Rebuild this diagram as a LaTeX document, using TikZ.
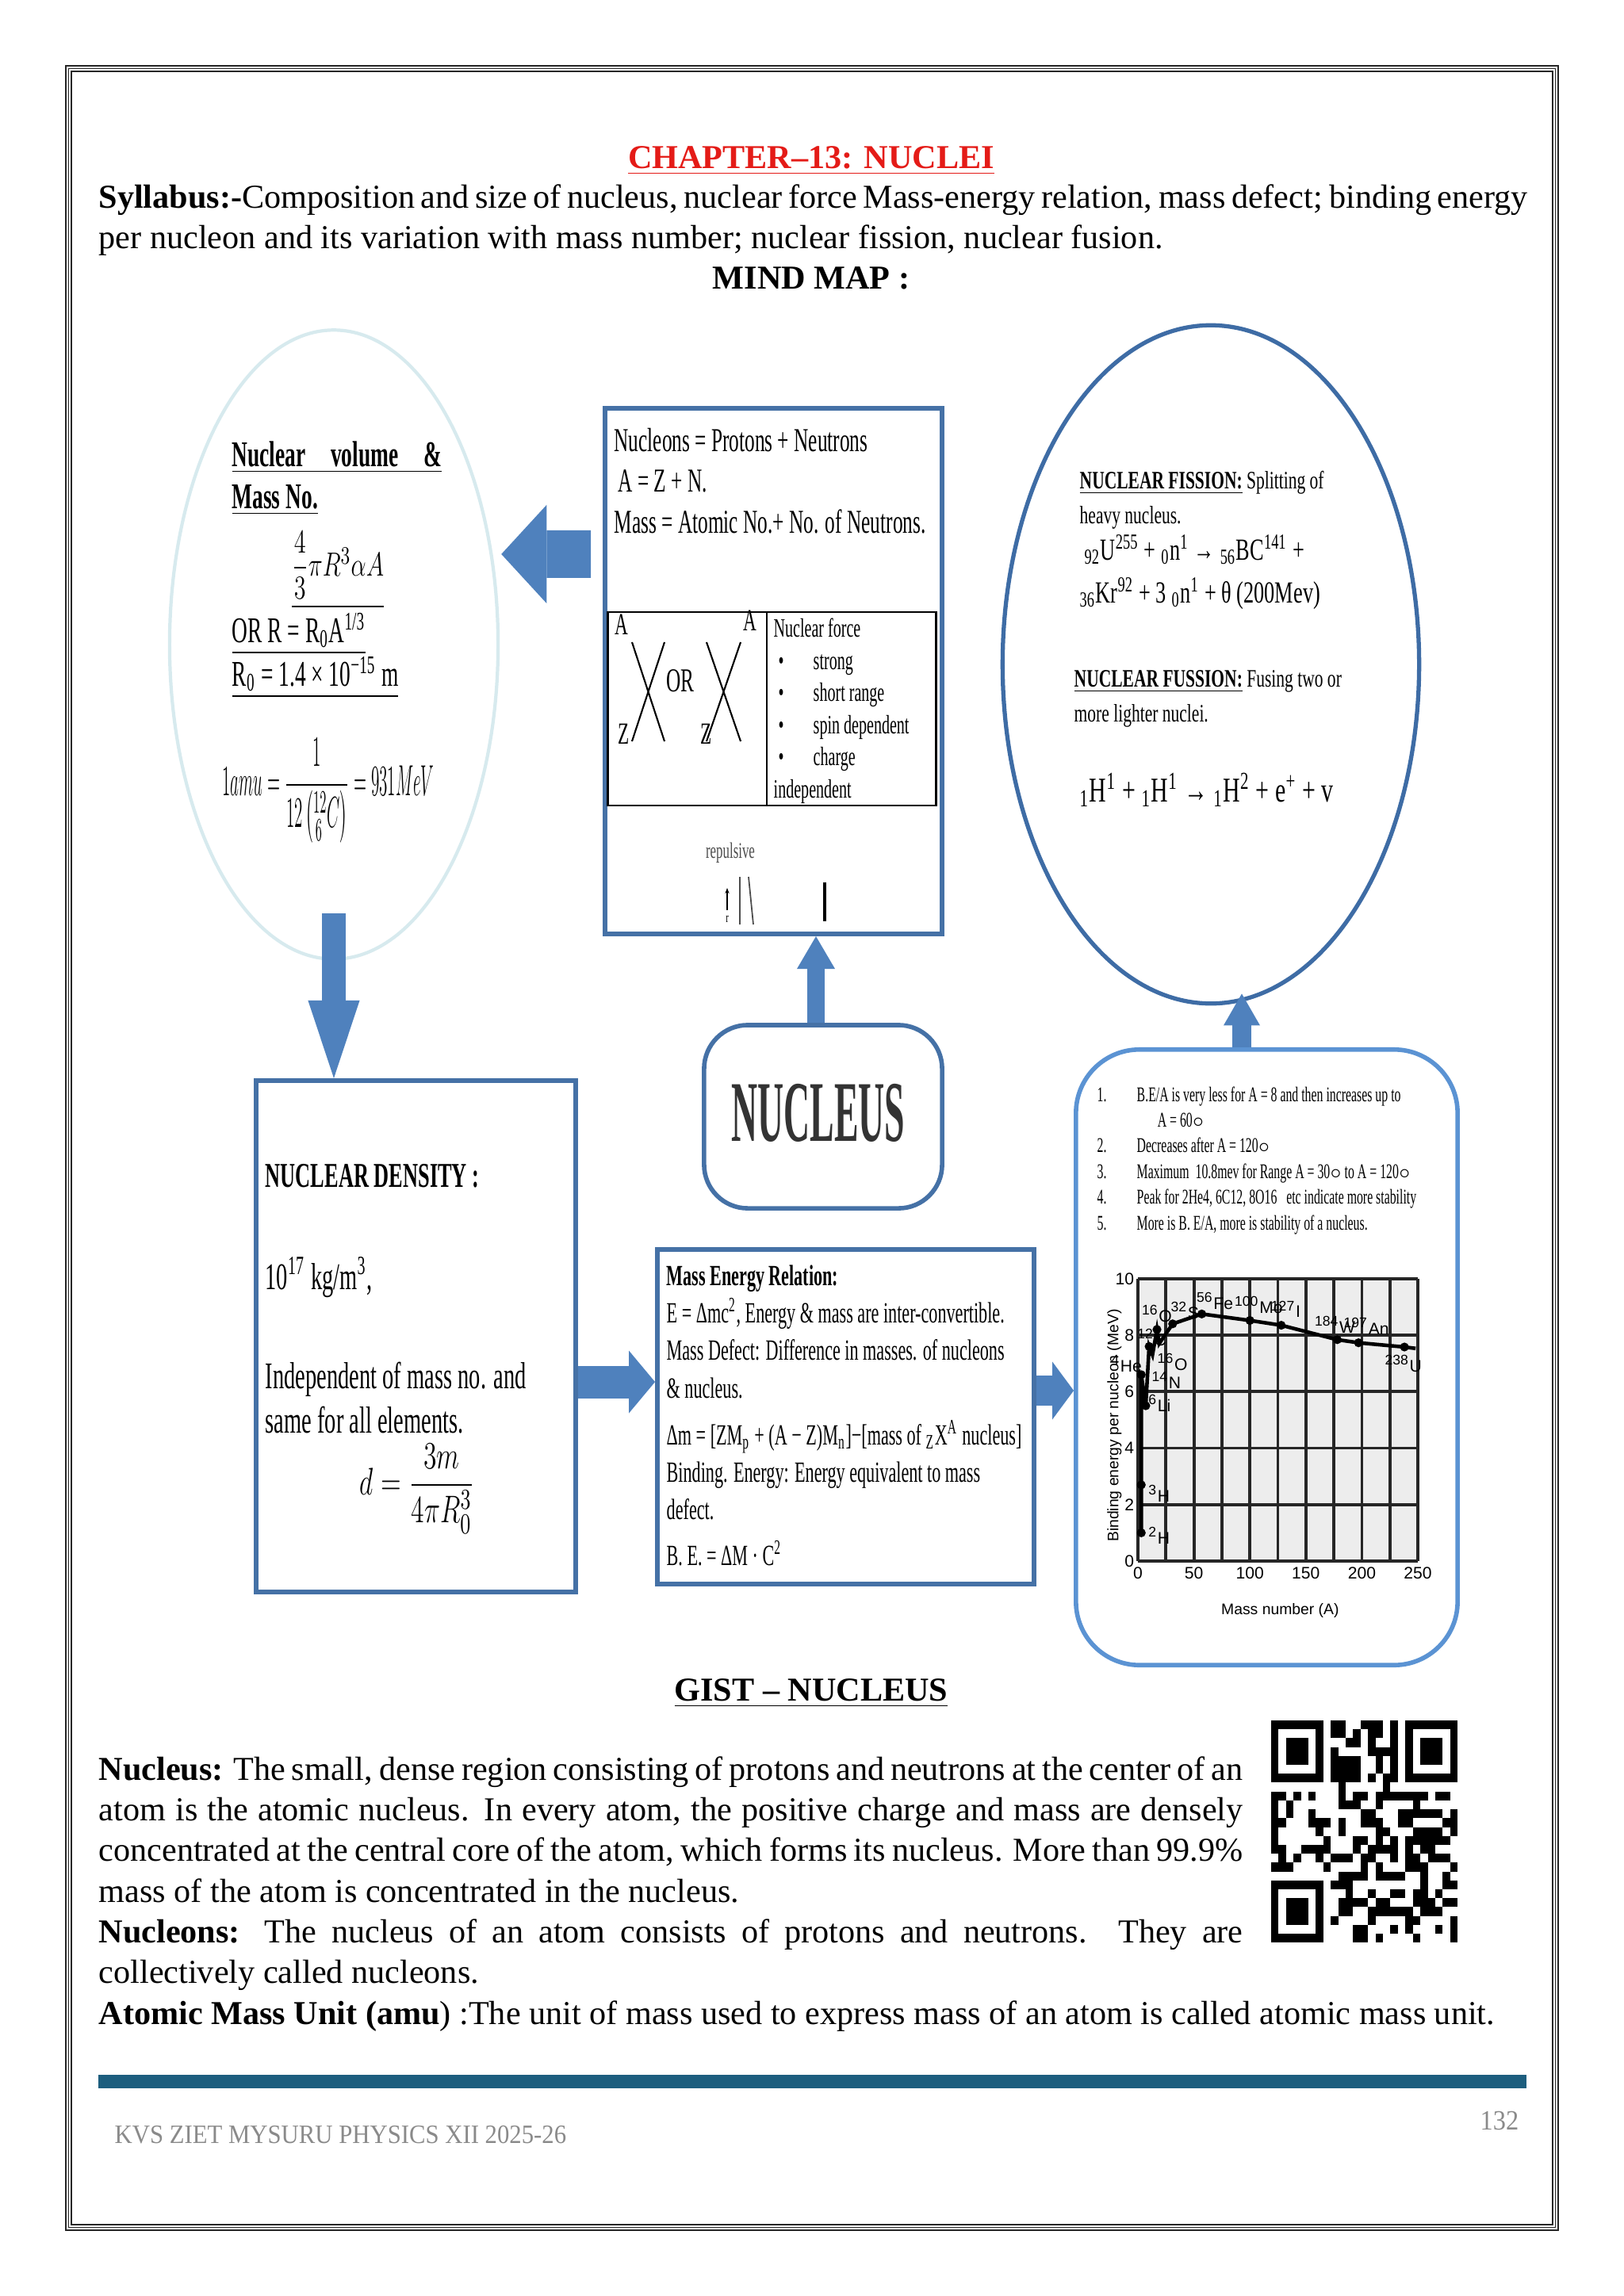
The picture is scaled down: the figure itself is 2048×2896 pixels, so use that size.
\documentclass[tikz,border=0pt]{standalone}
\usepackage{amsmath}
\usepackage{fontspec}
\usepackage{graphicx}
\usepackage{tikz}
\usetikzlibrary{arrows.meta,positioning,shapes.geometric,calc}
\setmainfont{Liberation Serif}
\newfontfamily\condfont[FakeStretch=0.6]{Liberation Serif}
\newfontfamily\circfont[FakeStretch=0.68]{Liberation Serif}
\newfontfamily\nucfont[FakeStretch=0.42]{Liberation Serif}
\newfontfamily\footfont[FakeStretch=0.92]{Liberation Serif}
\newfontfamily\graphfont{Liberation Sans}
\definecolor{TitleRed}{HTML}{E41B17}
\definecolor{BoxBlue}{HTML}{4571A6}
\definecolor{RingBlue}{HTML}{3E6CA5}
\definecolor{SoftBlue}{HTML}{5B93D3}
\definecolor{PaleRing}{HTML}{D7EAEE}
\definecolor{ArrowFill}{HTML}{4F81BD}
\definecolor{FootBar}{HTML}{1D5E7E}
\definecolor{FootText}{HTML}{8A8A8A}

\begin{document}
\begin{tikzpicture}[x=0.01cm,y=-0.01cm,
  box/.style={draw=BoxBlue,line width=1.6pt,inner sep=0pt},
  oval/.style={ellipse,inner sep=0pt},
  txt/.style={anchor=base west,inner sep=0pt,align=left},
  fatarrow/.style n args={3}{draw=ArrowFill,line width=#1,
    -{Triangle[length=#2,width=#3,line width=0pt]}},
  gridline/.style={line width=1.1pt,black!85},
  tag/.style={inner sep=0pt,font=\graphfont\fontsize{6}{7}\selectfont}
]
  \useasboundingbox (0,0) rectangle (2048,2896);
  % page frame
  \draw[line width=0.6pt,black!85] (83,83) rectangle (1965,2813);
  \draw[line width=0.3pt,black!85] (86.5,86.5) rectangle (1961.5,2809.5);
  \draw[line width=0.6pt,black!85] (90,90) rectangle (1958,2806);

  % heading
  \node[anchor=base,inner sep=0pt,text=TitleRed,font=\bfseries\fontsize{12}{14}\selectfont]
    (title) at (1023,212) {\underline{CHAPTER–13: NUCLEI}};
  \node[txt,text width=18.01cm,align=justify,font=\fontsize{12}{14.7}\selectfont] (syl) at (124,262)
    {\textbf{Syllabus:-}Composition and size of nucleus, nuclear force Mass-energy relation, mass defect; binding energy\linebreak
     per nucleon and its variation with mass number; nuclear fission, nuclear fusion.};
  \node[anchor=base,inner sep=0pt,font=\bfseries\fontsize{12}{14}\selectfont] (mindmap) at (1023,364) {MIND MAP :};

  % mind map shapes
  \node[oval,draw=PaleRing,line width=1.2pt,minimum width=4.14cm,minimum height=7.93cm] (vol) at (421,813) {};
  \node[oval,draw=RingBlue,line width=1.5pt,minimum width=5.25cm,minimum height=8.55cm] (fis) at (1527,838) {};
  \node[box,minimum width=4.25cm,minimum height=6.63cm] (basic) at (975.5,846.5) {};
  \node[draw,line width=0.8pt,inner sep=0pt,minimum width=4.13cm,minimum height=2.44cm] (force) at (973.5,894) {};
  \node[box,rounded corners=0.55cm,minimum width=3.0cm,minimum height=2.31cm] (nuc) at (1038,1408.5) {};
  \node[box,minimum width=4.03cm,minimum height=6.45cm] (den) at (524.5,1685.5) {};
  \node[box,minimum width=4.75cm,minimum height=4.22cm] (me) at (1066.5,1787) {};
  \node[draw=SoftBlue,line width=1.6pt,inner sep=0pt,rounded corners=0.8cm,
        minimum width=4.81cm,minimum height=7.76cm] (be) at (1597.5,1712) {};

  % connectors
  \coordinate (nuctop) at ([xshift=-0.09cm]nuc.north);
  \coordinate (betop) at ([xshift=-0.315cm]be.north);
  \draw[fatarrow={0.6cm}{0.57cm}{1.24cm}] ([xshift=-0.15cm,yshift=1.475cm]basic.west) -- ([xshift=0.02cm,yshift=1.14cm]vol.east);
  \draw[fatarrow={0.29cm}{0.98cm}{0.65cm}] ([yshift=0.6cm]vol.south) -- (vol.south |- den.north);
  \draw[fatarrow={0.22cm}{0.41cm}{0.48cm}] (nuctop) -- (nuctop |- basic.south);
  \draw[fatarrow={0.41cm}{0.33cm}{0.79cm}] ([yshift=-0.575cm]den.east) -- ([yshift=-0.575cm]den.east -| me.west);
  \draw[fatarrow={0.37cm}{0.27cm}{0.73cm}] ([yshift=0.33cm]me.east) -- ([yshift=0.33cm]me.east -| be.west);
  \draw[fatarrow={0.23cm}{0.40cm}{0.46cm}] (betop) -- ([yshift=0.15cm]betop |- fis.south);

  % nuclear volume
  \node[txt,font=\condfont\bfseries\fontsize{13}{15}\selectfont] (voltitle) at (292,588)
    {\underline{\makebox[2.64cm][s]{Nuclear volume \&}}};
  \node[txt,font=\condfont\bfseries\fontsize{13}{15}\selectfont] (volmass) at (292,641) {\underline{Mass No.}};
  \node[inner sep=1pt,font=\fontsize{13}{15}\selectfont] (volfrac) at (426,713)
    {\scalebox{0.72}[1]{$\dfrac{4}{3}\pi R^3\alpha A$}};
  \draw[line width=0.8pt] (368,765) -- (484,765);
  \node[txt,font=\condfont\fontsize{13}{15}\selectfont] (volr) at (292,810)
    {\underline{OR R = R\textsubscript{0}A\textsuperscript{1/3}}};
  \node[txt,font=\condfont\fontsize{13}{15}\selectfont] (volr0) at (292,865)
    {\underline{R\textsubscript{0} = 1.4 × 10\textsuperscript{−15} m}};
  \node[inner sep=0pt,font=\fontsize{13}{15}\selectfont] (amu) at (414,997)
    {\scalebox{0.5}[1.3]{$1amu=\dfrac{1}{12\left(^{12}_{\,6}C\right)}=931MeV$}};

  % nucleons box
  \node[txt,font=\condfont\fontsize{12}{14.6}\selectfont] (nucleons) at (774,672)
    {Nucleons = Protons + Neutrons\\\hspace*{0.05cm}A = Z + N.\\Mass = Atomic No.+ No. of Neutrons.};
  \draw[line width=0.8pt] (force.north -| 967,0) -- (force.south -| 967,0);
  \node[txt,font=\condfont\fontsize{11}{12}\selectfont] (za1) at (775,800) {A};
  \node[txt,font=\condfont\fontsize{11}{12}\selectfont] (zz1) at (779,938) {Z};
  \node[txt,font=\condfont\fontsize{11}{12}\selectfont] (za2) at (937,795) {A};
  \node[txt,font=\condfont\fontsize{11}{12}\selectfont] (zz2) at (883,938) {Z};
  \node[txt,font=\condfont\fontsize{12}{12}\selectfont] (zor) at (840,872) {OR};
  \draw[line width=0.6pt] (797,810) -- (838,935) (838,810) -- (797,935);
  \draw[line width=0.6pt] (891,810) -- (934,935) (934,810) -- (891,935);
  \node[txt,font=\condfont\fontsize{9.5}{11.5}\selectfont] (forcetxt) at (975,1006)
    {Nuclear force\\
     \hspace*{0.06cm}\makebox[0.44cm][l]{\textbullet}strong\\
     \hspace*{0.06cm}\makebox[0.44cm][l]{\textbullet}short range\\
     \hspace*{0.06cm}\makebox[0.44cm][l]{\textbullet}spin dependent\\
     \hspace*{0.06cm}\makebox[0.44cm][l]{\textbullet}charge\\
     independent};
  \node[anchor=base,inner sep=0pt,text=black!70,font=\condfont\fontsize{8}{9}\selectfont] (rep) at (921,1082) {repulsive};
  \draw[-{Stealth[length=2pt]},line width=0.4pt] (917,1148) -- (917,1120);
  \node[anchor=base,inner sep=0pt,font=\condfont\fontsize{5}{5}\selectfont] (repr) at (917,1163) {r};
  \draw[line width=0.5pt,black!70] (933,1106) -- (933,1166) (944,1106) -- (950,1166);
  \draw[line width=1.4pt] (1040,1113) -- (1040,1162);

  % nucleus
  \node[inner sep=0pt,text=black!80,font=\nucfont\bfseries\fontsize{31}{31}\selectfont] (nuctext) at (1032,1404) {NUCLEUS};

  % fission / fusion
  \node[txt,font=\circfont\fontsize{9}{12.5}\selectfont] (fistxt) at (1361,660)
    {\textbf{\underline{NUCLEAR FISSION:}} Splitting of\\heavy nucleus.};
  \node[txt,font=\circfont\fontsize{11}{13}\selectfont] (fiseq1) at (1367,706)
    {\textsubscript{92}U\textsuperscript{255} + \textsubscript{0}n\textsuperscript{1} → \textsubscript{56}BC\textsuperscript{141} +};
  \node[txt,font=\circfont\fontsize{11}{13}\selectfont] (fiseq2) at (1361,760)
    {\textsubscript{36}Kr\textsuperscript{92} + 3 \textsubscript{0}n\textsuperscript{1} + θ (200Mev)};
  \node[txt,font=\circfont\fontsize{9}{12.5}\selectfont] (fustxt) at (1354,910)
    {\textbf{\underline{NUCLEAR FUSSION:}} Fusing two or\\more lighter nuclei.};
  \node[txt,font=\circfont\fontsize{12.5}{14}\selectfont] (fuseq) at (1361,1011)
    {\textsubscript{1}H\textsuperscript{1} + \textsubscript{1}H\textsuperscript{1} → \textsubscript{1}H\textsuperscript{2} + e\textsuperscript{+} + v};

  % nuclear density
  \node[txt,font=\condfont\bfseries\fontsize{12.5}{15}\selectfont] (dentitle) at (334,1497) {NUCLEAR DENSITY :};
  \node[txt,font=\condfont\fontsize{13.5}{16}\selectfont] (denval) at (334,1626) {10\textsuperscript{17} kg/m\textsuperscript{3},};
  \node[txt,font=\condfont\fontsize{13.5}{15.9}\selectfont] (denind) at (334,1807)
    {Independent of mass no. and\\same for all elements.};
  \node[inner sep=0pt,font=\fontsize{13}{15}\selectfont] (denform) at (526,1878)
    {\scalebox{0.8}[1.15]{$d=\dfrac{3m}{4\pi R_0^3}$}};

  % mass energy
  \node[txt,font=\condfont\fontsize{10.5}{13.4}\selectfont] (metxt) at (840,1974)
    {\textbf{Mass Energy Relation:}\\
     E = Δmc\textsuperscript{2}, Energy \& mass are inter-convertible.\\
     Mass Defect: Difference in masses. of nucleons\\
     \& nucleus.\\[3.4pt]
     Δm = [ZM\textsubscript{p} + (A − Z)M\textsubscript{n}]−[mass of \textsubscript{Z}X\textsuperscript{A} nucleus]\\
     Binding. Energy: Energy equivalent to mass\\
     defect.\\[3pt]
     B. E. = ΔM · C\textsuperscript{2}};

  % binding energy box
  \node[txt,font=\condfont\fontsize{7.5}{9.2}\selectfont] (betxt) at (1383,1551)
    {\makebox[0.5cm][l]{1.}B.E/A is very less for A = 8 and then increases up to\\
     \hspace*{0.76cm}A = 60$\circ$\\
     \makebox[0.5cm][l]{2.}Decreases after A = 120$\circ$\\
     \makebox[0.5cm][l]{3.}Maximum\ \ 10.8mev for Range A = 30$\circ$ to A = 120$\circ$\\
     \makebox[0.5cm][l]{4.}Peak for 2He4, 6C12, 8O16\ \ \ etc indicate more stability\\
     \makebox[0.5cm][l]{5.}More is B. E/A, more is stability of a nucleus.};
  \begin{scope}[shift={(1435,1969)},x=0.01412cm,y=0.356cm]
    \fill[black!7] (0,0) rectangle (250,10);
    \foreach \gx in {0,25,...,250} \draw[gridline] (\gx,0) -- (\gx,10);
    \foreach \gy in {0,2,...,10} \draw[gridline] (0,\gy) -- (250,\gy);
    \draw[line width=1.3pt] plot coordinates {(3,1.0) (3,2.7) (3,6.6) (7,5.5) (10,7.6) (13,7.3) (17,8.2)
      (19,7.7) (31,8.4) (57,8.75) (100,8.52) (128,8.35) (178,7.84) (197,7.73) (238,7.58) (248,7.53)};
    \foreach \a/\b in {3/1.0,3/2.7,3/6.6,7/5.5,10/7.6,17/8.2,31/8.4,57/8.75,100/8.52,128/8.35,178/7.84,197/7.73,238/7.58}
      \fill (\a,\b) circle (1.6pt);
    \node[tag,anchor=west] at (9,0.9) {\textsuperscript{2}H};
    \node[tag,anchor=west] at (9,2.4) {\textsuperscript{3}H};
    \node[tag,anchor=east] at (4,7.0) {\textsuperscript{4}He};
    \node[tag,anchor=south west] at (-1,7.6) {\textsuperscript{12}C};
    \node[tag,anchor=west] at (9,5.6) {\textsuperscript{6}Li};
    \node[tag,anchor=west] at (12,6.4) {\textsuperscript{14}N};
    \node[tag,anchor=west] at (17,7.05) {\textsuperscript{16}O};
    \node[tag,anchor=south] at (17,8.45) {\textsuperscript{16}O};
    \node[tag,anchor=south west] at (29,8.55) {\textsuperscript{32}S};
    \node[tag,anchor=south west] at (52,8.9) {\textsuperscript{56}Fe};
    \node[tag,anchor=south west] at (86,8.75) {\textsuperscript{100}Mo};
    \node[tag,anchor=south] at (132,8.6) {\textsuperscript{127}I};
    \node[tag,anchor=south] at (176,8.05) {\textsuperscript{184}W};
    \node[tag,anchor=south] at (204,8.0) {\textsuperscript{197}An};
    \node[tag,anchor=north] at (237,7.3) {\textsuperscript{238}U};
    \foreach \gy in {0,2,...,10} \node[tag,anchor=east] at (-3,\gy) {\gy};
    \foreach \gx in {0,50,...,250} \node[tag,anchor=north] at (\gx,-0.2) {\gx};
    \node[tag,font=\graphfont\fontsize{5.5}{6}\selectfont] (xlab) at (127,-1.75) {Mass number (A)};
    \node[tag,rotate=90,font=\graphfont\fontsize{5.5}{6}\selectfont] (ylab) at (-21,4.8) {Binding energy per nucleon (MeV)};
  \end{scope}

  % gist
  \node[anchor=base,inner sep=0pt,font=\bfseries\fontsize{12}{14}\selectfont] (gist) at (1023,2145) {\underline{GIST – NUCLEUS}};
  \node[txt,text width=14.42cm,align=justify,font=\fontsize{12}{14.6}\selectfont] (para) at (124,2245)
    {\textbf{Nucleus:} The small, dense region consisting of protons and neutrons at the center of an\linebreak
     atom is the atomic nucleus. In every atom, the positive charge and mass are densely\linebreak
     concentrated at the central core of the atom, which forms its nucleus. More than 99.9\%\linebreak
     mass of the atom is concentrated in the nucleus.\\
     \textbf{Nucleons:} The nucleus of an atom consists of protons and neutrons. They are\linebreak
     collectively called nucleons.};
  \node[txt,font=\fontsize{12}{14.6}\selectfont] (amupara) at (124,2553)
    {\textbf{Atomic Mass Unit (amu}) :The unit of mass used to express mass of an atom is called atomic mass unit.};

  % qr code
  \begin{scope}[shift={(1603,2170)},x=0.094cm,y=-0.112cm]
    \pgfmathsetseed{4242}
    \foreach \i in {0,...,24}{
      \foreach \j in {0,...,24}{
        \pgfmathtruncatemacro\infinder{((\i<8 && \j<8) || (\i>16 && \j<8) || (\i<8 && \j>16)) ? 1 : 0}
        \pgfmathtruncatemacro\dark{rnd<0.5 ? 1 : 0}
        \ifnum\infinder=0 \ifnum\dark=1 \fill (\i,\j) rectangle +(1,1); \fi\fi
      }}
    \foreach \a/\b in {0/0,18/0,0/18}{
      \fill (\a,\b) rectangle +(7,7);
      \fill[white] (\a+1,\b+1) rectangle +(5,5);
      \fill (\a+2,\b+2) rectangle +(3,3);}
  \end{scope}

  % footer
  \fill[FootBar] (124,2617) rectangle (1925,2634);
  \node[txt,text=FootText,font=\footfont\fontsize{9.5}{11}\selectfont] (foot) at (144,2703) {KVS ZIET MYSURU PHYSICS XII 2025-26};
  \node[txt,text=FootText,font=\footfont\fontsize{10}{11}\selectfont] (pageno) at (1866,2686) {132};
\end{tikzpicture}
\end{document}
